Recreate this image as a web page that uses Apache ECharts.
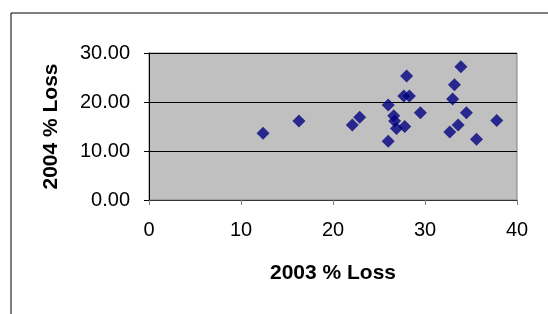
<!DOCTYPE html>
<html>
<head>
<meta charset="utf-8">
<script src="https://cdn.jsdelivr.net/npm/echarts@6/dist/echarts.min.js"></script>
<style>
  html, body { margin: 0; padding: 0; background: #fff; }
  #chart { width: 548px; height: 314px; }
</style>
</head>
<body>
<div id="chart"></div>
<script>
// values
const loss2003 = [12.4, 16.3, 22.1, 22.9, 26.0, 26.0, 26.6, 26.7, 26.9, 27.8, 28.0, 27.7, 28.3, 29.5, 32.7, 33.6, 33.0, 33.2, 33.9, 34.5, 35.6, 37.8];
const loss2004 = [13.6, 16.1, 15.3, 16.9, 19.4, 12.0, 17.2, 16.1, 14.6, 15.0, 25.3, 21.2, 21.2, 17.8, 13.9, 15.3, 20.6, 23.5, 27.2, 17.8, 12.4, 16.2];

const font = "'Liberation Sans', Arial, sans-serif";

const chart = echarts.init(document.getElementById("chart"), null, { renderer: "canvas" });

chart.setOption({
  animation: false,
  backgroundColor: "#fff",
  // outer chart frame (only top and left edges show in the crop)
  graphic: [
    {
      type: "polyline",
      shape: { points: [[11, 330], [11, 13], [560, 13]] },
      style: { stroke: "#000", lineWidth: 1, fill: null }
    }
  ],
  grid: {
    left: 149, right: 31, top: 53, bottom: 114,
    show: true,
    backgroundColor: "#C0C0C0",
    borderColor: "#808080",
    borderWidth: 1
  },
  xAxis: {
    type: "value",
    min: 0, max: 40, interval: 10,
    name: "2003 % Loss",
    nameLocation: "middle",
    nameGap: 63,
    nameTextStyle: { fontFamily: font, fontSize: 21, fontWeight: "bold", color: "#000" },
    axisLine: { show: true, lineStyle: { color: "#333", width: 1 } },
    axisTick: { show: true, length: 5, lineStyle: { color: "#808080" } },
    axisLabel: { margin: 20, fontFamily: font, fontSize: 20, color: "#000" },
    splitLine: { show: false }
  },
  yAxis: {
    type: "value",
    min: 0, max: 30, interval: 10,
    name: "2004 % Loss",
    nameLocation: "middle",
    nameGap: 87,
    nameTextStyle: { fontFamily: font, fontSize: 21, fontWeight: "bold", color: "#000" },
    axisLine: { show: true, lineStyle: { color: "#000", width: 1 } },
    axisTick: { show: true, length: 5, lineStyle: { color: "#000" } },
    axisLabel: {
      margin: 19, fontFamily: font, fontSize: 20, color: "#000",
      formatter: v => v.toFixed(2)
    },
    splitLine: { show: true, lineStyle: { color: "#000", width: 1 } }
  },
  series: [
    {
      type: "scatter",
      symbol: "diamond",
      symbolSize: 13,
      itemStyle: { color: "#000080" },
      data: loss2003.map((x, i) => [x, loss2004[i]])
    }
  ]
});
</script>
</body>
</html>
